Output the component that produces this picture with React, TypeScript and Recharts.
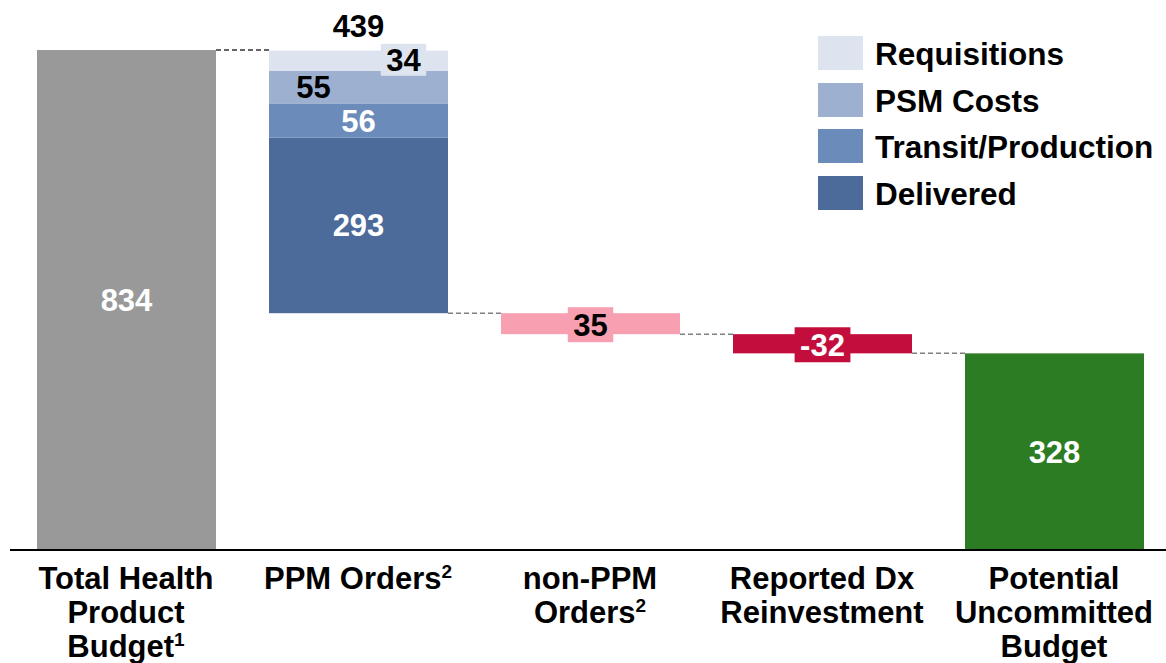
import React from "react";
import { BarChart, Bar, XAxis, YAxis, Legend } from "recharts";

// ---- data ----
const categories = [
  "Total Health Product Budget¹",
  "PPM Orders²",
  "non-PPM Orders²",
  "Reported Dx Reinvestment",
  "Potential Uncommitted Budget",
];
// [text, superscript]
const categoryLines: [string, string][][] = [
  [["Total Health", ""], ["Product", ""], ["Budget", "1"]],
  [["PPM Orders", "2"]],
  [["non-PPM", ""], ["Orders", "2"]],
  [["Reported Dx", ""], ["Reinvestment", ""]],
  [["Potential", ""], ["Uncommitted", ""], ["Budget", ""]],
];
const budgetValues = [834, 0, 0, 0, 0];
const deliveredValues = [0, 293, 0, 0, 0];
const transitValues = [0, 56, 0, 0, 0];
const psmValues = [0, 55, 0, 0, 0];
const requisitionValues = [0, 34, 0, 0, 0];
const stepTotals = [0, 439, 0, 0, 0];
const nonPpmValues = [0, 0, 35, 0, 0];
const dxValues = [0, 0, 0, -32, 0];
const finalValues = [0, 0, 0, 0, 328];

// ---- colours / layout ----
const C = {
  budget: "#999999",
  delivered: "#4c6a9a",
  transit: "#6b8cba",
  psm: "#9db0cf",
  req: "#dee4ef",
  nonPpm: "#f8a0b2",
  dx: "#c30e3d",
  final: "#2c7c24",
};
const W = 1166;
const H = 663;
const MARGIN = { top: 50, right: -4, left: 10, bottom: 0 };
const BAR_SIZE = 179;
const BAND = (W - MARGIN.left - MARGIN.right) / categories.length;
const CONNECTOR_GAP = BAND - BAR_SIZE;
const FONT = "'Liberation Sans', Arial, Helvetica, sans-serif";
const FS = 31;

// waterfall bases from running level
const bases: number[] = [];
{
  let level = 0;
  categories.forEach((_, i) => {
    if (budgetValues[i]) {
      bases.push(0);
      level = budgetValues[i];
    } else if (stepTotals[i]) {
      level -= stepTotals[i];
      bases.push(level);
    } else if (nonPpmValues[i]) {
      level -= Math.abs(nonPpmValues[i]);
      bases.push(level);
    } else if (dxValues[i]) {
      level -= Math.abs(dxValues[i]);
      bases.push(level);
    } else {
      bases.push(0);
    }
  });
}

const data = categories.map((name, i) => ({
  name,
  base: bases[i],
  budget: budgetValues[i],
  delivered: deliveredValues[i],
  transit: transitValues[i],
  psm: psmValues[i],
  requisitions: requisitionValues[i],
  nonPpm: Math.abs(nonPpmValues[i]),
  dx: Math.abs(dxValues[i]),
  final: finalValues[i],
}));

const charW = (s: string) =>
  s.split("").reduce((a, ch) => a + (ch === "-" ? 0.333 : 0.556), 0) * FS;

const txt = (x: number, y: number, s: string | number, fill: string) => (
  <text
    x={x}
    y={y}
    textAnchor="middle"
    fontFamily={FONT}
    fontWeight="bold"
    fontSize={FS}
    fill={fill}
  >
    {s}
  </text>
);

type LabelSpec = {
  values: number[];
  color: string;
  dx?: number;
  dy?: number;
  box?: string;
  boxH?: number;
  total?: number[];
};

type ShapeSpec = {
  connector?: "top" | "bottom";
  connectorColor?: string;
  label?: LabelSpec;
};

const rowIndex = (p: any) => {
  const name = p?.payload?.name;
  const i = categories.indexOf(name);
  return i >= 0 ? i : p.index;
};

const makeShape = (spec: ShapeSpec) => (p: any) => {
  const { x, y, width, height, fill } = p;
  if (!height || height <= 0) return <g />;
  const i = rowIndex(p);
  const els: React.ReactNode[] = [];
  els.push(<rect key="r" x={x} y={y} width={width} height={height} fill={fill} />);
  if (spec.connector) {
    const ly = spec.connector === "top" ? y : y + height;
    els.push(
      <line
        key="c"
        x1={x + width}
        x2={x + width + CONNECTOR_GAP}
        y1={ly}
        y2={ly}
        stroke={spec.connectorColor || "#7f7f7f"}
        strokeWidth={1.5}
        strokeDasharray="5 3"
      />
    );
  }
  const L = spec.label;
  if (L) {
    const v = L.values[i];
    if (v) {
      const s = String(v);
      const cx = x + width / 2 + (L.dx || 0);
      const cy = y + height / 2 + (L.dy || 0);
      if (L.box) {
        const bw = charW(s) + 11;
        const bh = L.boxH || 35;
        els.push(
          <rect key="b" x={cx - bw / 2} y={cy - bh / 2} width={bw} height={bh} fill={L.box} />
        );
      }
      els.push(<g key="t">{txt(cx, cy + 11, s, L.color)}</g>);
      if (L.total && L.total[i]) {
        els.push(<g key="tt">{txt(x + width / 2, y - 14, L.total[i], "#000")}</g>);
      }
    }
  }
  return <g>{els}</g>;
};

const CategoryTick = (props: any) => {
  const { x, y, payload } = props;
  const idx = categories.indexOf(payload.value);
  const lines = categoryLines[idx] || [];
  return (
    <g>
      {lines.map(([l, sup], i) => (
        <text
          key={i}
          x={x}
          y={y + 39 + i * 34}
          textAnchor="middle"
          fontFamily={FONT}
          fontWeight="bold"
          fontSize={FS}
          fill="#000"
        >
          {l}
          {sup ? (
            <tspan fontSize={19} dy={-11}>
              {sup}
            </tspan>
          ) : null}
        </text>
      ))}
    </g>
  );
};

const legendOrder = ["Requisitions", "PSM Costs", "Transit/Production", "Delivered"];

const LegendContent = (props: any) => {
  const items = (props.payload || []).filter((p: any) => legendOrder.includes(p.value));
  items.sort((a: any, b: any) => legendOrder.indexOf(a.value) - legendOrder.indexOf(b.value));
  return (
    <div style={{ display: "flex", flexDirection: "column" }}>
      {items.map((it: any) => (
        <div
          key={it.value}
          style={{ display: "flex", alignItems: "center", height: 34, marginBottom: 12.67 }}
        >
          <div style={{ width: 45, height: 34, background: it.color, flex: "none" }} />
          <span
            style={{
              marginLeft: 12,
              fontFamily: FONT,
              fontWeight: "bold",
              fontSize: 31.5,
              lineHeight: "34px",
              color: "#000",
              whiteSpace: "nowrap",
              position: "relative",
              top: 1,
            }}
          >
            {it.value}
          </span>
        </div>
      ))}
    </div>
  );
};

export default function App() {
  return (
    <div style={{ position: "absolute", left: 0, top: 0, width: W, height: H, background: "#fff" }}>
      <BarChart width={W} height={H} data={data} margin={MARGIN} barSize={BAR_SIZE}>
        <XAxis
          dataKey="name"
          interval={0}
          tickLine={false}
          tickSize={0}
          tickMargin={0}
          height={113}
          axisLine={{ stroke: "#000", strokeWidth: 2 }}
          tick={<CategoryTick />}
        />
        <YAxis hide type="number" domain={[0, 834]} />
        <Legend
          layout="vertical"
          align="center"
          verticalAlign="middle"
          wrapperStyle={{ left: 818, top: 36, width: 348, height: 190 }}
          content={<LegendContent />}
        />
        <Bar dataKey="base" stackId="w" fill="transparent" legendType="none" isAnimationActive={false} />
        <Bar
          dataKey="budget"
          name="Total Health Product Budget"
          stackId="w"
          fill={C.budget}
          legendType="none"
          isAnimationActive={false}
          shape={makeShape({
            connector: "top",
            connectorColor: "#333333",
            label: { values: budgetValues, color: "#fff" },
          })}
        />
        <Bar
          dataKey="delivered"
          name="Delivered"
          stackId="w"
          fill={C.delivered}
          isAnimationActive={false}
          shape={makeShape({
            connector: "bottom",
            label: { values: deliveredValues, color: "#fff" },
          })}
        />
        <Bar
          dataKey="transit"
          name="Transit/Production"
          stackId="w"
          fill={C.transit}
          isAnimationActive={false}
          shape={makeShape({ label: { values: transitValues, color: "#fff" } })}
        />
        <Bar
          dataKey="psm"
          name="PSM Costs"
          stackId="w"
          fill={C.psm}
          isAnimationActive={false}
          shape={makeShape({ label: { values: psmValues, color: "#000", dx: -45 } })}
        />
        <Bar
          dataKey="requisitions"
          name="Requisitions"
          stackId="w"
          fill={C.req}
          isAnimationActive={false}
          shape={makeShape({
            label: {
              values: requisitionValues,
              color: "#000",
              dx: 45,
              dy: -1,
              box: C.req,
              boxH: 32,
              total: stepTotals,
            },
          })}
        />
        <Bar
          dataKey="nonPpm"
          name="non-PPM Orders"
          stackId="w"
          fill={C.nonPpm}
          legendType="none"
          isAnimationActive={false}
          shape={makeShape({
            connector: "bottom",
            label: { values: nonPpmValues, color: "#000", dy: 1, box: C.nonPpm },
          })}
        />
        <Bar
          dataKey="dx"
          name="Reported Dx Reinvestment"
          stackId="w"
          fill={C.dx}
          legendType="none"
          isAnimationActive={false}
          shape={makeShape({
            connector: "bottom",
            label: { values: dxValues, color: "#fff", dy: 1, box: C.dx },
          })}
        />
        <Bar
          dataKey="final"
          name="Potential Uncommitted Budget"
          stackId="w"
          fill={C.final}
          legendType="none"
          isAnimationActive={false}
          shape={makeShape({ label: { values: finalValues, color: "#fff" } })}
        />
      </BarChart>
    </div>
  );
}
